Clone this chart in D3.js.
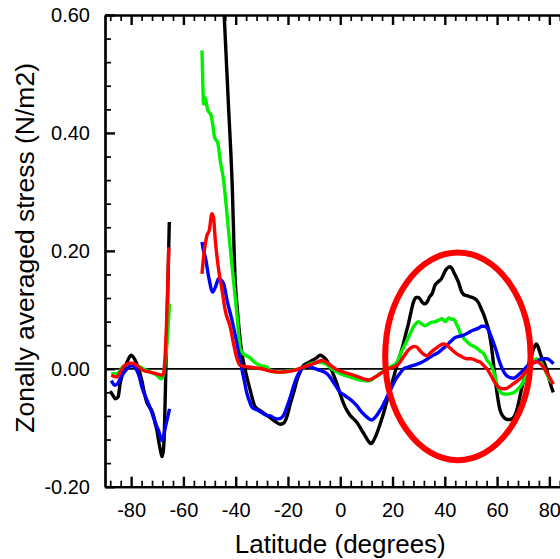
<!DOCTYPE html>
<html>
<head>
<meta charset="utf-8">
<script src="https://cdn.jsdelivr.net/npm/d3@7"></script>
<style>
  body { margin: 0; background: #fff; }
  text { font-family: "Liberation Sans", Arial, Helvetica, sans-serif; }
</style>
</head>
<body>
<div id="chart-area"></div>
<script>
// latitude (deg) / zonally averaged stress (N/m2), null = gap
var black = [
  [-88.0,-0.038],[-87.0,-0.045],[-86.0,-0.051],[-85.0,-0.048],[-84.2,-0.025],[-83.2,-0.008],[-82.3,0.003],[-81.0,0.017],
  [-80.0,0.023],[-78.9,0.018],[-77.8,0.008],[-76.8,-0.005],[-75.9,-0.020],[-75.0,-0.040],[-74.0,-0.057],[-73.0,-0.065],
  [-72.1,-0.071],[-71.4,-0.080],[-70.8,-0.093],[-70.1,-0.105],[-69.5,-0.122],[-68.8,-0.138],[-68.2,-0.149],[-67.7,-0.140],
  [-67.3,-0.110],[-66.7,0.003],[-66.0,0.130],[-65.4,0.249],
  [-60,null],
  [-47.0,0.85],[-44.4,0.600],[-42.8,0.450],[-41.4,0.319],[-40.2,0.150],[-39.5,0.107],[-38.9,0.076],[-37.6,0.025],
  [-36.3,-0.003],[-34.4,-0.037],[-32.5,-0.065],[-30.6,-0.071],[-28.7,-0.077],[-26.8,-0.083],[-25.0,-0.089],[-23.0,-0.094],
  [-22.0,-0.093],[-21.0,-0.088],[-20.0,-0.075],[-19.1,-0.059],[-17.8,-0.040],[-16.6,-0.020],[-15.3,-0.005],[-14.0,0.006],
  [-12.4,0.010],[-10.8,0.014],[-9.2,0.018],[-7.7,0.023],[-6.7,0.021],[-5.7,0.017],[-4.7,0.011],[-3.8,0.003],[-2.5,-0.011],
  [-1.3,-0.025],[0.0,-0.043],[1.3,-0.059],[2.6,-0.071],[3.8,-0.079],[5.1,-0.085],[6.4,-0.091],[7.4,-0.098],[8.3,-0.105],
  [9.3,-0.112],[10.2,-0.119],[11.0,-0.124],[11.8,-0.127],[12.6,-0.123],[13.4,-0.116],[14.3,-0.106],[15.3,-0.093],
  [16.6,-0.075],[17.9,-0.054],[19.1,-0.037],[20.2,-0.018],[21.0,-0.005],[22.0,0.010],[23.0,0.025],[24.0,0.040],
  [25.0,0.058],[26.0,0.075],[27.0,0.095],[28.0,0.113],[29.1,0.121],[29.9,0.121],[30.6,0.118],[31.5,0.112],[32.5,0.110],
  [33.2,0.113],[34.2,0.122],[35.1,0.127],[36.3,0.142],[37.6,0.148],[38.6,0.152],[39.5,0.160],[40.4,0.168],[41.3,0.172],
  [42.1,0.173],[42.8,0.170],[43.4,0.164],[44.4,0.155],[45.3,0.146],[46.3,0.132],[47.2,0.126],[48.5,0.124],[49.7,0.122],
  [51.0,0.120],[52.0,0.117],[52.9,0.112],[53.8,0.103],[54.8,0.093],[55.8,0.080],[56.7,0.067],[57.5,0.048],[58.2,0.025],
  [58.8,0.002],[59.5,-0.025],[60.2,-0.048],[61.0,-0.068],[62.0,-0.079],[63.0,-0.084],[64.0,-0.086],[65.0,-0.086],
  [66.0,-0.084],[67.0,-0.077],[67.8,-0.066],[68.6,-0.050],[69.5,-0.032],[70.4,-0.016],[71.4,-0.002],[72.2,0.010],
  [73.0,0.020],[74.0,0.034],[75.0,0.042],[75.8,0.036],[76.5,0.026],[77.5,0.015],[78.4,0.006],[79.1,-0.003],[79.7,-0.014],
  [80.4,-0.025],[81.0,-0.034],[81.5,-0.040]
];

var green = [
  [-87.6,-0.0085],[-85.5,-0.0085],[-83.0,0.004],[-80.3,0.0085],[-77.8,0.006],[-75.3,0.0],[-72.7,-0.0056],[-70.2,-0.011],
  [-68.5,-0.017],[-67.6,-0.010],[-67.0,0.010],[-66.3,0.042],[-65.3,0.110],
  [-60,null],
  [-52.9,0.540],[-52.5,0.470],[-52.3,0.449],[-51.9,0.460],[-51.4,0.455],[-51.0,0.445],[-50.6,0.438],[-49.4,0.430],
  [-48.7,0.412],[-48.1,0.393],[-47.5,0.388],[-46.9,0.384],[-45.9,0.353],[-44.6,0.319],[-43.3,0.261],[-42.1,0.205],
  [-40.8,0.148],[-39.5,0.091],[-38.3,0.035],[-37.0,0.025],[-35.8,0.022],[-34.4,0.018],[-33.0,0.012],[-31.9,0.0085],
  [-30.0,0.005],[-28.1,0.003],[-26.8,-0.003],[-23.0,-0.006],[-19.1,-0.003],[-15.3,0.0],[-13.0,0.005],[-11.5,0.0085],
  [-8.3,0.011],[-5.7,0.0085],[-3.2,0.0],[0.0,-0.0085],[3.8,-0.014],[7.7,-0.019],[10.8,-0.021],[13.4,-0.014],
  [16.0,-0.0056],[19.1,0.003],[21.7,0.011],[23.0,0.025],[24.2,0.036],[25.5,0.048],[26.8,0.060],[28.0,0.071],[29.0,0.077],
  [29.9,0.080],[31.2,0.076],[32.5,0.073],[33.8,0.076],[35.1,0.079],[36.3,0.080],[37.6,0.082],[38.9,0.085],[40.2,0.080],
  [41.5,0.086],[42.5,0.084],[43.4,0.084],[44.5,0.075],[45.3,0.068],[45.9,0.060],[47.2,0.052],[48.5,0.046],[50.0,0.040],
  [51.6,0.037],[53.6,0.030],[55.0,0.025],[56.1,0.015],[57.4,0.008],[58.7,-0.005],[59.9,-0.025],[61.0,-0.038],
  [62.0,-0.042],[63.5,-0.043],[65.0,-0.042],[66.5,-0.040],[67.6,-0.036],[68.9,-0.030],[70.1,-0.021],[71.2,-0.010],
  [72.0,-0.002],[73.3,0.0085],[74.2,0.014],[75.1,0.017],[76.0,0.014],[77.1,0.0085],[78.0,0.001],[78.7,-0.0056],
  [79.5,-0.013],[80.3,-0.020],[81.3,-0.023]
];

var blue = [
  [-87.6,-0.020],[-86.1,-0.028],[-85.0,-0.024],[-84.2,-0.017],[-83.0,-0.008],[-81.6,0.0],[-80.5,0.004],[-79.7,0.0056],
  [-78.8,0.003],[-77.8,-0.003],[-76.8,-0.015],[-75.9,-0.031],[-74.6,-0.046],[-73.4,-0.059],[-72.4,-0.070],[-71.5,-0.082],
  [-70.5,-0.094],[-69.5,-0.105],[-68.2,-0.122],[-67.5,-0.112],[-66.9,-0.099],[-66.0,-0.082],[-65.3,-0.068],
  [-60,null],
  [-52.9,0.215],[-52.3,0.200],[-51.6,0.189],[-50.3,0.155],[-48.8,0.130],[-47.8,0.138],[-46.5,0.153],[-45.5,0.150],
  [-44.6,0.144],[-43.3,0.116],[-41.4,0.082],[-39.5,0.042],[-38.3,0.014],[-37.0,-0.014],[-35.7,-0.042],[-34.5,-0.058],
  [-33.8,-0.065],[-31.2,-0.071],[-28.1,-0.079],[-26.8,-0.080],[-25.0,-0.084],[-23.6,-0.085],[-22.5,-0.083],
  [-21.7,-0.079],[-20.5,-0.066],[-19.1,-0.048],[-17.9,-0.030],[-16.6,-0.014],[-15.2,-0.003],[-14.0,0.004],
  [-12.5,0.004],[-11.5,0.003],[-9.5,0.0],[-7.7,-0.003],[-5.1,-0.0085],[-3.8,-0.015],[-2.6,-0.023],[-1.3,-0.032],
  [0.0,-0.040],[1.3,-0.044],[2.6,-0.048],[3.8,-0.052],[5.1,-0.057],[6.4,-0.063],[7.7,-0.071],[9.0,-0.077],[10.2,-0.082],
  [11.0,-0.085],[12.1,-0.087],[13.0,-0.084],[14.0,-0.079],[15.0,-0.072],[16.0,-0.065],[17.0,-0.056],[17.9,-0.048],
  [19.1,-0.037],[20.4,-0.025],[21.5,-0.016],[22.3,-0.011],[23.3,-0.005],[24.2,0.0],[26.0,0.003],[28.0,0.0056],
  [29.5,0.008],[31.2,0.011],[32.8,0.015],[34.4,0.020],[36.0,0.024],[37.6,0.028],[39.2,0.034],[40.8,0.040],[42.4,0.047],
  [44.0,0.053],[45.5,0.055],[47.2,0.057],[48.5,0.060],[49.7,0.063],[51.2,0.066],[52.9,0.069],[54.2,0.072],[55.2,0.072],
  [56.2,0.069],[56.9,0.064],[57.8,0.054],[58.7,0.043],[59.7,0.030],[60.7,0.015],[61.8,0.002],[62.8,-0.007],
  [63.7,-0.012],[65.0,-0.015],[66.3,-0.016],[67.5,-0.013],[68.9,-0.007],[70.2,-0.002],[71.4,0.004],[72.8,0.008],
  [74.0,0.010],[75.4,0.013],[76.5,0.016],[78.0,0.017],[79.0,0.017],[80.3,0.014],[81.0,0.011],[81.6,0.0085]
];

var red = [
  [-87.6,-0.011],[-85.5,-0.014],[-84.2,-0.006],[-83.0,0.003],[-81.6,0.008],[-80.3,0.0095],[-79.0,0.009],[-77.8,0.0056],
  [-76.5,0.001],[-75.3,-0.003],[-72.7,-0.0056],[-70.2,-0.0085],[-68.2,-0.011],[-67.6,-0.008],[-67.3,0.003],
  [-66.9,0.030],[-66.5,0.071],[-66.0,0.140],[-65.6,0.206],
  [-60,null],
  [-52.9,0.161],[-52.3,0.189],[-51.0,0.226],[-50.1,0.235],[-49.1,0.263],[-48.5,0.257],[-47.8,0.218],[-46.5,0.167],
  [-45.2,0.133],[-44.0,0.099],[-42.1,0.071],[-40.8,0.042],[-39.5,0.017],[-38.3,0.0056],[-35.1,0.003],[-30.0,0.0],
  [-26.8,-0.004],[-23.0,-0.0056],[-17.9,-0.003],[-14.0,0.003],[-10.2,0.0085],[-7.0,0.014],[-4.5,0.0085],[-1.9,0.0],
  [1.3,-0.0056],[5.1,-0.011],[8.9,-0.017],[10.8,-0.019],[13.4,-0.014],[15.3,-0.0085],[18.5,0.0],[21.7,0.006],
  [23.0,0.012],[24.5,0.022],[26.1,0.032],[27.3,0.036],[28.5,0.038],[29.5,0.036],[30.6,0.030],[31.8,0.025],[33.2,0.022],
  [34.5,0.027],[35.8,0.032],[37.0,0.036],[38.3,0.040],[39.5,0.042],[40.5,0.041],[41.6,0.037],[42.8,0.032],[43.8,0.028],
  [45.0,0.024],[45.9,0.022],[47.2,0.019],[48.5,0.017],[50.0,0.017],[51.0,0.016],[52.5,0.013],[53.6,0.011],[55.0,0.005],
  [56.1,0.0],[57.5,-0.010],[58.7,-0.020],[59.7,-0.027],[60.6,-0.031],[62.0,-0.034],[63.1,-0.034],[64.5,-0.031],
  [66.3,-0.025],[67.6,-0.021],[68.9,-0.016],[70.2,-0.009],[71.4,-0.003],[72.5,0.004],[73.3,0.0085],[74.2,0.011],
  [75.1,0.012],[76.2,0.010],[77.1,0.006],[78.0,0.001],[79.0,-0.006],[80.0,-0.014],[81.0,-0.022],[81.5,-0.026]
];

var series = [
  { name: "black", color: "#000000", values: black },
  { name: "green", color: "#00f000", values: green },
  { name: "blue", color: "#0000ff", values: blue },
  { name: "red", color: "#ff0000", values: red }
];

var xMajor = [-80, -60, -40, -20, 0, 20, 40, 60, 80];
var yMajor = [-0.2, 0, 0.2, 0.4, 0.6];

// highlighted region (center lat/value, half width in deg, half height in N/m2)
var circleLat = 45, circleVal = 0.021, circleHalfLat = 27.8, circleHalfVal = 0.176;

var svg = d3.select("#chart-area").append("svg")
    .attr("width", 560)
    .attr("height", 559);

var x = d3.scaleLinear().domain([-90, 90]).range([105, 575.5]);
var y = d3.scaleLinear().domain([-0.2, 0.6]).range([486.7, 15]);

var xMinor = d3.range(-22, 23).map(i => i * 4).filter(d => d % 20 !== 0);
var yMinor = d3.range(-5, 16).filter(i => i % 5 !== 0).map(i => i * 0.04);

svg.append("clipPath").attr("id", "plot-clip")
    .append("rect")
    .attr("x", x(-90)).attr("y", y(0.6))
    .attr("width", x(90) - x(-90)).attr("height", y(-0.2) - y(0.6));

// zero line
svg.append("line")
    .attr("x1", x(-90)).attr("x2", x(90))
    .attr("y1", y(0)).attr("y2", y(0))
    .attr("stroke", "black")
    .attr("stroke-width", 1.8);

var line = d3.line()
    .defined(d => d[1] !== null)
    .x(d => x(d[0]))
    .y(d => y(d[1]))
    .curve(d3.curveMonotoneX);

svg.append("g").attr("clip-path", "url(#plot-clip)")
    .selectAll("path")
    .data(series)
    .enter()
    .append("path")
    .attr("d", d => line(d.values))
    .attr("fill", "none")
    .attr("stroke", d => d.color)
    .attr("stroke-width", 3.4)
    .attr("stroke-linejoin", "round");

svg.append("ellipse")
    .attr("cx", x(circleLat))
    .attr("cy", y(circleVal))
    .attr("rx", x(circleLat + circleHalfLat) - x(circleLat))
    .attr("ry", y(0) - y(circleHalfVal))
    .attr("fill", "none")
    .attr("stroke", "#ff0000")
    .attr("stroke-width", 6);

// axes, ticks pointing inward
function styleAxis(g, width) {
    g.select(".domain").attr("stroke-width", 2.2);
    g.selectAll(".tick line").attr("stroke-width", width);
    g.selectAll("text")
        .attr("font-family", "'Liberation Sans', Arial, sans-serif")
        .attr("font-size", 20)
        .attr("fill", "black");
}

svg.append("g")
    .attr("transform", "translate(0," + y(-0.2) + ")")
    .call(d3.axisBottom(x).tickValues(xMajor).tickSize(-10).tickSizeOuter(0)
        .tickPadding(16.5).tickFormat(d => String(d)))
    .call(g => styleAxis(g, 2.4));

svg.append("g")
    .attr("transform", "translate(0," + y(-0.2) + ")")
    .call(d3.axisBottom(x).tickValues(xMinor).tickSize(-6).tickSizeOuter(0).tickFormat(""))
    .call(g => styleAxis(g, 1.7));

svg.append("g")
    .attr("transform", "translate(0," + y(0.6) + ")")
    .call(d3.axisTop(x).tickValues(xMajor).tickSize(-10).tickSizeOuter(0).tickFormat(""))
    .call(g => styleAxis(g, 2.4));

svg.append("g")
    .attr("transform", "translate(0," + y(0.6) + ")")
    .call(d3.axisTop(x).tickValues(xMinor).tickSize(-6).tickSizeOuter(0).tickFormat(""))
    .call(g => styleAxis(g, 1.7));

svg.append("g")
    .attr("transform", "translate(" + x(-90) + ",0)")
    .call(d3.axisLeft(y).tickValues(yMajor).tickSize(-10).tickSizeOuter(0)
        .tickPadding(15).tickFormat(d => d.toFixed(2)))
    .call(g => styleAxis(g, 2.4));

svg.append("g")
    .attr("transform", "translate(" + x(-90) + ",0)")
    .call(d3.axisLeft(y).tickValues(yMinor).tickSize(-6).tickSizeOuter(0).tickFormat(""))
    .call(g => styleAxis(g, 1.7));

svg.append("g")
    .attr("transform", "translate(" + x(90) + ",0)")
    .call(d3.axisRight(y).tickValues(yMajor).tickSize(-10).tickSizeOuter(0).tickFormat(""))
    .call(g => styleAxis(g, 2.4));

// axis titles
svg.append("text")
    .attr("x", (x(-90) + x(90)) / 2)
    .attr("y", 553)
    .attr("text-anchor", "middle")
    .attr("font-size", 26)
    .attr("fill", "black")
    .text("Latitude (degrees)");

svg.append("text")
    .attr("transform", "translate(34," + ((y(-0.2) + y(0.6)) / 2 - 3) + ") rotate(-90)")
    .attr("text-anchor", "middle")
    .attr("font-size", 26.5)
    .attr("fill", "black")
    .text("Zonally averaged stress (N/m2)");
</script>
</body>
</html>
